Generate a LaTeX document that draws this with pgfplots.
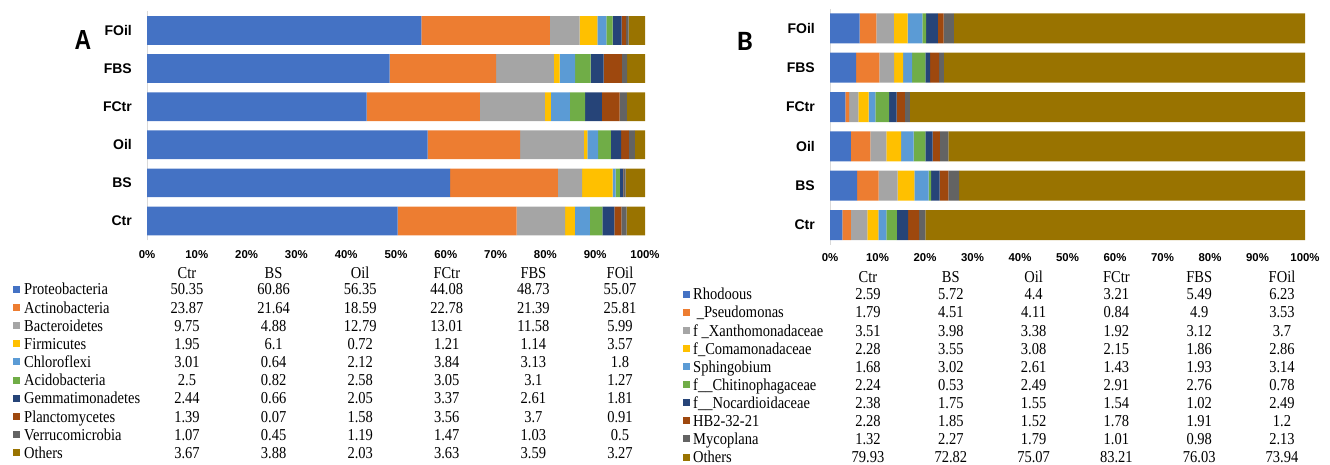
\documentclass[border=0pt]{standalone}
\usepackage{fontspec}
\setmainfont{Liberation Serif}
\newfontfamily\arial{Liberation Sans}
\newfontfamily\calib{Carlito}
\usepackage{graphicx}
\usepackage{pgfplots}
\usepackage{pgfplotstable}
\pgfplotsset{compat=1.18}
\definecolor{k1}{HTML}{4472C4}
\definecolor{k2}{HTML}{ED7D31}
\definecolor{k3}{HTML}{A5A5A5}
\definecolor{k4}{HTML}{FFC000}
\definecolor{k5}{HTML}{5B9BD5}
\definecolor{k6}{HTML}{70AD47}
\definecolor{k7}{HTML}{264478}
\definecolor{k8}{HTML}{9E480E}
\definecolor{k9}{HTML}{636363}
\definecolor{k10}{HTML}{997300}
% rows: 0 Ctr, 1 BS, 2 Oil, 3 FCtr, 4 FBS, 5 FOil
\pgfplotstableread{
y c1 c2 c3 c4 c5 c6 c7 c8 c9 c10
0 50.35 23.87 9.75 1.95 3.01 2.5 2.44 1.39 1.07 3.67
1 60.86 21.64 4.88 6.1 0.64 0.82 0.66 0.07 0.45 3.88
2 56.35 18.59 12.79 0.72 2.12 2.58 2.05 1.58 1.19 2.03
3 44.08 22.78 13.01 1.21 3.84 3.05 3.37 3.56 1.47 3.63
4 48.73 21.39 11.58 1.14 3.13 3.1 2.61 3.7 1.03 3.59
5 55.07 25.81 5.99 3.57 1.8 1.27 1.81 0.91 0.5 3.27
}\tblA
\pgfplotstableread{
y c1 c2 c3 c4 c5 c6 c7 c8 c9 c10
0 2.59 1.79 3.51 2.28 1.68 2.24 2.38 2.28 1.32 79.93
1 5.72 4.51 3.98 3.55 3.02 0.53 1.75 1.85 2.27 72.82
2 4.4 4.11 3.38 3.08 2.61 2.49 1.55 1.52 1.79 75.07
3 3.21 0.84 1.92 2.15 1.43 2.91 1.54 1.78 1.01 83.21
4 5.49 4.9 3.12 1.86 1.93 2.76 1.02 1.91 0.98 76.03
5 6.23 3.53 3.7 2.86 3.14 0.78 2.49 1.2 2.13 73.94
}\tblB
\newcommand\tx[1]{\scalebox{1}[1.15]{\fontsize{14.5}{16}\selectfont #1}}
\pgfplotsset{
  mybar/.style={
    xbar stacked, scale only axis, clip=false, anchor=south west,
    xmin=0, xmax=100, ymin=-0.5, ymax=5.5,
    axis lines*=left,
    x axis line style={draw=none},
    y axis line style={draw=black!15, line width=0.8pt},
    major tick length=0pt,
    xtick={0,10,...,100},
    xticklabels={0\%,10\%,20\%,30\%,40\%,50\%,60\%,70\%,80\%,90\%,100\%},
    ytick={0,1,2,3,4,5},
    yticklabels={Ctr,BS,Oil,FCtr,FBS,FOil},
    yticklabel style={font=\arial\bfseries\fontsize{14}{14}\selectfont, anchor=east, inner sep=0pt, xshift=-15pt},
    xticklabel style={font=\arial\bfseries\fontsize{11.4}{12}\selectfont, anchor=center, inner sep=0pt},
  }
}
\begin{document}
\begin{tikzpicture}[x=1pt,y=1pt]
\path[use as bounding box] (0,0) rectangle (1330,464);
% ---------------- Panel A ----------------
\begin{axis}[mybar, at={(147pt,224pt)}, width=498pt, height=228.6pt, bar width=28.7pt,
  xticklabel style={yshift=-15pt}]
\addplot[fill=k1, draw=none] table[x=c1,y=y]{\tblA};
\addplot[fill=k2, draw=none] table[x=c2,y=y]{\tblA};
\addplot[fill=k3, draw=none] table[x=c3,y=y]{\tblA};
\addplot[fill=k4, draw=none] table[x=c4,y=y]{\tblA};
\addplot[fill=k5, draw=none] table[x=c5,y=y]{\tblA};
\addplot[fill=k6, draw=none] table[x=c6,y=y]{\tblA};
\addplot[fill=k7, draw=none] table[x=c7,y=y]{\tblA};
\addplot[fill=k8, draw=none] table[x=c8,y=y]{\tblA};
\addplot[fill=k9, draw=none] table[x=c9,y=y]{\tblA};
\addplot[fill=k10, draw=none] table[x=c10,y=y]{\tblA};
\end{axis}
% ---------------- Panel B ----------------
\begin{axis}[mybar, at={(830pt,219.3pt)}, width=475pt, height=236pt, bar width=30pt,
  xticklabel style={yshift=-13.3pt}]
\addplot[fill=k1, draw=none] table[x=c1,y=y]{\tblB};
\addplot[fill=k2, draw=none] table[x=c2,y=y]{\tblB};
\addplot[fill=k3, draw=none] table[x=c3,y=y]{\tblB};
\addplot[fill=k4, draw=none] table[x=c4,y=y]{\tblB};
\addplot[fill=k5, draw=none] table[x=c5,y=y]{\tblB};
\addplot[fill=k6, draw=none] table[x=c6,y=y]{\tblB};
\addplot[fill=k7, draw=none] table[x=c7,y=y]{\tblB};
\addplot[fill=k8, draw=none] table[x=c8,y=y]{\tblB};
\addplot[fill=k9, draw=none] table[x=c9,y=y]{\tblB};
\addplot[fill=k10, draw=none] table[x=c10,y=y]{\tblB};
\end{axis}
% panel letters
\node at (83,424) {\scalebox{1}[1.2]{\arial\bfseries\fontsize{23}{23}\selectfont A}};
\node at (745,423) {\calib\bfseries\fontsize{28}{28}\selectfont B};
% ---------------- Table A ----------------
\foreach \n [count=\i from 0] in {Ctr,BS,Oil,FCtr,FBS,FOil} {
  \pgfmathsetmacro\xx{187+86.6*\i}
  \node[anchor=base, inner sep=0pt] at (\xx,185.7) {\tx{\n}};
  \pgfmathsetmacro\xb{868+82.8*\i}
  \node[anchor=base, inner sep=0pt] at (\xb,181.4) {\tx{\n}};
}
\foreach \r in {0,...,5} {
  \foreach \c in {1,...,10} {
    \pgfmathsetmacro\xx{187+86.6*\r}
    \pgfmathsetmacro\yy{169.1-18.16*(\c-1)}
    \pgfplotstablegetelem{\r}{c\c}\of\tblA
    \node[anchor=base, inner sep=0pt] at (\xx,\yy) {\tx{\pgfplotsretval}};
    \pgfmathsetmacro\xb{868+82.8*\r}
    \pgfmathsetmacro\yb{164.1-18.08*(\c-1)}
    \pgfplotstablegetelem{\r}{c\c}\of\tblB
    \node[anchor=base, inner sep=0pt] at (\xb,\yb) {\tx{\pgfplotsretval}};
  }
}
\foreach \nm/\col [count=\i from 0] in {Proteobacteria/k1,Actinobacteria/k2,Bacteroidetes/k3,Firmicutes/k4,Chloroflexi/k5,Acidobacteria/k6,Gemmatimonadetes/k7,Planctomycetes/k8,Verrucomicrobia/k9,Others/k10} {
  \pgfmathsetmacro\yy{169.1-18.16*\i}
  \pgfmathsetmacro\yc{174.7-18.16*\i}
  \fill[\col] (12.5,\yc-3.5) rectangle ++(7,7);
  \node[anchor=base west, inner sep=0pt] at (24,\yy) {\tx{\nm}};
}
\foreach \nm/\col [count=\i from 0] in {Rhodoous/k1,{ \_Pseudomonas}/k2,f \_Xanthomonadaceae/k3,f\_Comamonadaceae/k4,Sphingobium/k5,f\_\_Chitinophagaceae/k6,f\_\_Nocardioidaceae/k7,HB2-32-21/k8,Mycoplana/k9,Others/k10} {
  \pgfmathsetmacro\yy{164.1-18.08*\i}
  \pgfmathsetmacro\yc{169.7-18.08*\i}
  \fill[\col] (682.5,\yc-3.5) rectangle ++(7,7);
  \node[anchor=base west, inner sep=0pt] at (693,\yy) {\tx{\nm}};
}
\end{tikzpicture}
\end{document}
